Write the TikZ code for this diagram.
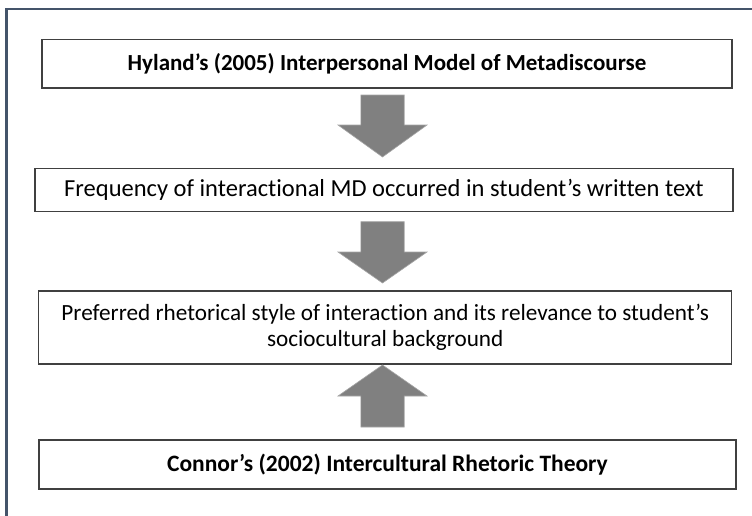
\documentclass[tikz,border=0pt]{standalone}
\usepackage{fontspec}
\setmainfont{Carlito}[Ligatures=NoCommon]
\definecolor{framecol}{HTML}{44546A}
\definecolor{boxgray}{HTML}{404040}
\definecolor{arrowgray}{HTML}{808080}
\begin{document}
\begin{tikzpicture}[x=1pt,y=-1pt]
\tikzset{
  box/.style={draw=boxgray, line width=1.5pt, fill=white, inner sep=0pt, align=center,
    font=\fontsize{23.5}{26.5}\selectfont},
  blockarrow/.style={fill=arrowgray, draw=arrowgray!70, line width=0.6pt, line join=miter},
  framestyle/.style={draw=framecol, line width=2.6pt}
}
\useasboundingbox (0,0) rectangle (752,515);
\fill[white] (0,0) rectangle (752,515);
\draw[framestyle] (753,9) -- (6.7,9) -- (6.7,516);

\node[box, minimum width=690pt, minimum height=48.7pt, font=\fontsize{23}{26.5}\selectfont\bfseries] (b1) at (387,63.6)
  {Hyland’s (2005) Interpersonal Model of Metadiscourse};
\node[box, minimum width=698pt, minimum height=43pt, font=\fontsize{24.5}{26.5}\selectfont] (b2) at (384,190)
  {Frequency of interactional MD occurred in student’s written text};
\node[box, minimum width=693pt, minimum height=73pt, font=\fontsize{23.2}{26.5}\selectfont] (b3) at (385.2,327.5)
  {Preferred rhetorical style of interaction and its relevance to student’s\\ sociocultural background};
\node[box, minimum width=697pt, minimum height=49pt, font=\fontsize{23.5}{26.5}\selectfont\bfseries] (b4) at (387.4,464.5)
  {Connor’s (2002) Intercultural Rhetoric Theory};

\coordinate (t1) at (382.5,157);
\coordinate (t2) at (382.5,283);
\coordinate (t3) at (382.5,365);

\draw[blockarrow, shift={(t1)}] (-21.7,-62) -- (21.7,-62) -- (21.7,-32) -- (44.5,-32) -- (0,0) -- (-44.5,-32) -- (-21.7,-32) -- cycle;
\draw[blockarrow, shift={(t2)}] (-21.7,-61.3) -- (21.7,-61.3) -- (21.7,-31) -- (44.5,-31) -- (0,0) -- (-44.5,-31) -- (-21.7,-31) -- cycle;
\draw[blockarrow, shift={(t3)}] (-21.7,62) -- (21.7,62) -- (21.7,31) -- (44.5,31) -- (0,0) -- (-44.5,31) -- (-21.7,31) -- cycle;
\end{tikzpicture}
\end{document}
